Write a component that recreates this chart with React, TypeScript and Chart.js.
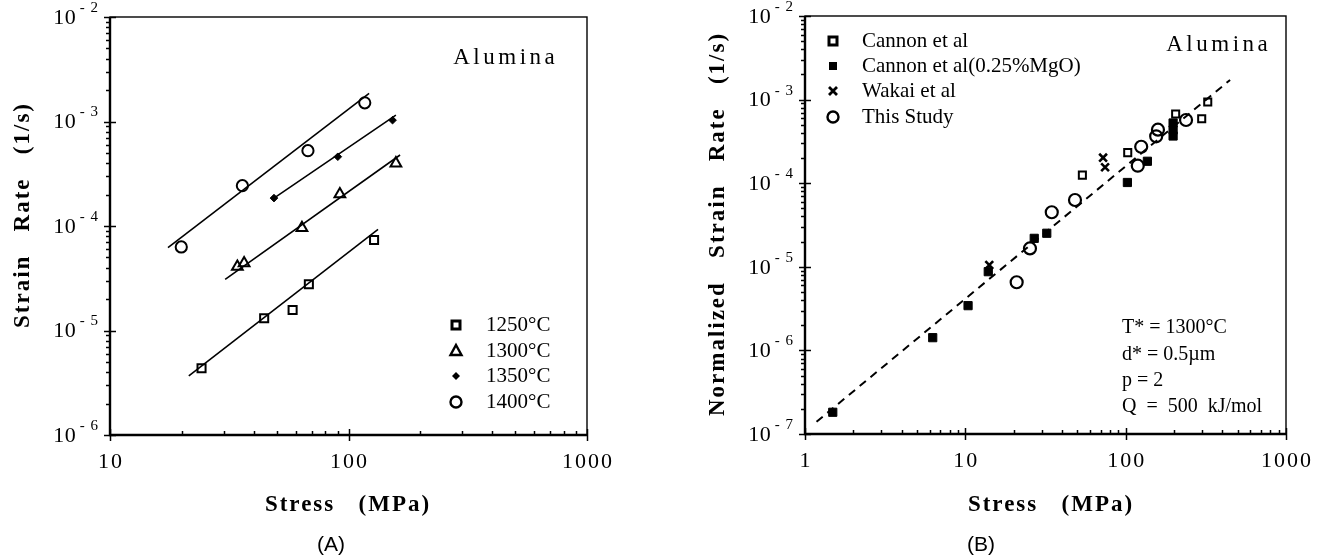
import React, { useEffect, useRef } from "react";
import { Chart, registerables } from "chart.js";

Chart.register(...registerables);

// ---------- Panel (A) data ----------
const stressA1250 = [24.2, 44.3, 58.3, 68.2, 128];
const rateA1250 = [4.35e-6, 1.31e-5, 1.57e-5, 2.77e-5, 7.35e-5];
const stressA1300 = [34.2, 36.5, 63.8, 92, 158];
const rateA1300 = [4.08e-5, 4.4e-5, 9.6e-5, 2.02e-4, 3.98e-4];
const stressA1350 = [48.7, 90.2, 153];
const rateA1350 = [1.85e-4, 4.6e-4, 1.03e-3];
const stressA1400 = [19.9, 35.9, 67.6, 117];
const rateA1400 = [6.3e-5, 2.43e-4, 5.26e-4, 1.51e-3];

const fitStressA1250 = [21.4, 133];
const fitRateA1250 = [3.67e-6, 9.29e-5];
const fitStressA1300 = [30.4, 164.5];
const fitRateA1300 = [3.09e-5, 4.78e-4];
const fitStressA1350 = [48.7, 158];
const fitRateA1350 = [1.85e-4, 1.15e-3];
const fitStressA1400 = [17.5, 122];
const fitRateA1400 = [6.2e-5, 1.86e-3];

const legendA = ["1250°C", "1300°C", "1350°C", "1400°C"];
const xTickExpA = [1, 3];
const yTickExpA = [-6, -2];

// ---------- Panel (B) data ----------
const cannonStress = [53.7, 103, 205, 298, 325];
const cannonRate = [1.25e-4, 2.32e-4, 6.73e-4, 5.91e-4, 9.36e-4];
const mgoStress = [1.49, 6.26, 10.4, 13.9, 26.9, 32.2, 102.5, 136.6, 197.6, 197.6, 197.6];
const mgoRate = [1.82e-7, 1.42e-6, 3.43e-6, 8.74e-6, 2.19e-5, 2.52e-5, 1.02e-4, 1.83e-4, 5.25e-4, 4.33e-4, 3.67e-4];
const wakaiStress = [14.1, 72.3, 74.4];
const wakaiRate = [1.05e-5, 2.02e-4, 1.55e-4];
const studyStress = [20.9, 25.3, 34.6, 48.3, 119, 125, 155, 159, 238];
const studyRate = [6.53e-6, 1.66e-5, 4.49e-5, 6.3e-5, 1.62e-4, 2.73e-4, 3.64e-4, 4.37e-4, 5.7e-4];
const fitStressB = [1.18, 448];
const fitRateB = [1.4e-7, 1.72e-3];

const legendB = ["Cannon et al", "Cannon et al(0.25%MgO)", "Wakai et al", "This Study"];
const notesB = ["T* = 1300°C", "d* = 0.5\u00B5m", "p = 2", "Q  =  500  kJ/mol"];
const xTickExpB = [0, 3];
const yTickExpB = [-7, -2];

const SERIF = '"Liberation Serif", "Times New Roman", Times, serif';
const SANS = '"Liberation Sans", Arial, Helvetica, sans-serif';

const pts = (xs: number[], ys: number[]) => xs.map((x, i) => ({ x, y: ys[i] }));

function txt(
  ctx: CanvasRenderingContext2D,
  s: string,
  x: number,
  y: number,
  font: string,
  align: CanvasTextAlign = "left",
  spacing = 0
) {
  ctx.save();
  ctx.font = font;
  (ctx as any).letterSpacing = spacing + "px";
  ctx.textAlign = align;
  ctx.textBaseline = "middle";
  ctx.fillStyle = "#000";
  let dx = 0;
  if (align === "center") dx = spacing / 2;
  else if (align === "right") dx = spacing;
  ctx.fillText(s, x + dx, y);
  ctx.restore();
}

function vtxt(ctx: CanvasRenderingContext2D, s: string, cx: number, cy: number, font: string, spacing: number) {
  ctx.save();
  ctx.translate(cx, cy);
  ctx.rotate(-Math.PI / 2);
  txt(ctx, s, 0, 0, font, "center", spacing);
  ctx.restore();
}

function drawFrameAndTicks(chart: any, xe: number[], ye: number[]) {
  const { ctx, chartArea: a } = chart;
  const xs = chart.scales.x;
  const ys = chart.scales.y;
  ctx.save();
  ctx.strokeStyle = "#000";
  ctx.lineWidth = 1.4;
  ctx.strokeRect(a.left, a.top, a.right - a.left, a.bottom - a.top);
  ctx.lineWidth = 2.4;
  ctx.beginPath();
  ctx.moveTo(a.left, a.top);
  ctx.lineTo(a.left, a.bottom);
  ctx.lineTo(a.right, a.bottom);
  ctx.stroke();
  ctx.lineWidth = 1.5;
  for (let e = xe[0]; e <= xe[1]; e++) {
    for (let k = 1; k <= 9; k++) {
      if (e === xe[1] && k > 1) break;
      const px = Math.round(xs.getPixelForValue(k * Math.pow(10, e))) + 0.5;
      ctx.beginPath();
      if (k === 1) {
        ctx.moveTo(px, a.bottom + 6);
        ctx.lineTo(px, a.bottom - 6);
      } else {
        ctx.moveTo(px, a.bottom);
        ctx.lineTo(px, a.bottom - 4);
      }
      ctx.stroke();
    }
  }
  for (let e = ye[0]; e <= ye[1]; e++) {
    for (let k = 1; k <= 9; k++) {
      if (e === ye[1] && k > 1) break;
      const py = Math.round(ys.getPixelForValue(k * Math.pow(10, e))) + 0.5;
      ctx.beginPath();
      if (k === 1) {
        ctx.moveTo(a.left - 6, py);
        ctx.lineTo(a.left + 6, py);
      } else {
        ctx.moveTo(a.left - 4, py);
        ctx.lineTo(a.left, py);
      }
      ctx.stroke();
    }
  }
  ctx.restore();
  // tick labels
  for (let e = xe[0]; e <= xe[1]; e++) {
    const px = xs.getPixelForValue(Math.pow(10, e));
    txt(ctx, String(Math.pow(10, e)), px, a.bottom + 27, `22px ${SERIF}`, "center", 2);
  }
  for (let e = ye[0]; e <= ye[1]; e++) {
    const py = ys.getPixelForValue(Math.pow(10, e));
    ctx.save();
    ctx.font = `15px ${SERIF}`;
    (ctx as any).letterSpacing = "1px";
    const sup = "- " + Math.abs(e);
    const w = ctx.measureText(sup).width;
    ctx.restore();
    const supX = a.left - 11 - w;
    txt(ctx, sup, supX, py - 9, `15px ${SERIF}`, "left", 1);
    txt(ctx, "10", supX - 4, py + 1, `22px ${SERIF}`, "right", 0.5);
  }
}

function marker(ctx: CanvasRenderingContext2D, kind: string, x: number, y: number) {
  ctx.save();
  ctx.strokeStyle = "#000";
  ctx.fillStyle = "#000";
  ctx.beginPath();
  if (kind === "openSquare") {
    ctx.lineWidth = 3;
    ctx.rect(x - 4, y - 4, 8, 8);
    ctx.stroke();
  } else if (kind === "fillSquare") {
    ctx.rect(x - 4, y - 4, 8, 8);
    ctx.fill();
  } else if (kind === "triangle") {
    ctx.lineWidth = 2.4;
    ctx.moveTo(x, y - 6);
    ctx.lineTo(x + 5.5, y + 4);
    ctx.lineTo(x - 5.5, y + 4);
    ctx.closePath();
    ctx.stroke();
  } else if (kind === "diamond") {
    ctx.moveTo(x, y - 4);
    ctx.lineTo(x + 4, y);
    ctx.lineTo(x, y + 4);
    ctx.lineTo(x - 4, y);
    ctx.closePath();
    ctx.fill();
  } else if (kind === "circle") {
    ctx.lineWidth = 2.4;
    ctx.arc(x, y, 5.5, 0, Math.PI * 2);
    ctx.stroke();
  } else if (kind === "cross") {
    ctx.lineWidth = 2.8;
    ctx.moveTo(x - 4, y - 4);
    ctx.lineTo(x + 4, y + 4);
    ctx.moveTo(x + 4, y - 4);
    ctx.lineTo(x - 4, y + 4);
    ctx.stroke();
  }
  ctx.restore();
}

const panelAPlugin = {
  id: "panelA",
  afterDraw(chart: any) {
    const ctx = chart.ctx as CanvasRenderingContext2D;
    drawFrameAndTicks(chart, xTickExpA, yTickExpA);
    txt(ctx, "Alumina", 504, 58, `23px ${SERIF}`, "center", 3.5);
    const kinds = ["openSquare", "triangle", "diamond", "circle"];
    const rows = [325, 351, 376, 402];
    legendA.forEach((s, i) => {
      marker(ctx, kinds[i], 456, rows[i]);
      txt(ctx, s, 486, rows[i], `21px ${SERIF}`, "left", 0);
    });
    vtxt(ctx, "Strain   Rate   (1/s)", 23, 216, `bold 23px ${SERIF}`, 2);
    txt(ctx, "Stress   (MPa)", 347, 505, `bold 23px ${SERIF}`, "center", 2);
    txt(ctx, "(A)", 331, 545, `21px ${SANS}`, "center", 0);
  },
};

const panelBPlugin = {
  id: "panelB",
  afterDraw(chart: any) {
    const ctx = chart.ctx as CanvasRenderingContext2D;
    drawFrameAndTicks(chart, xTickExpB, yTickExpB);
    txt(ctx, "Alumina", 567, 45, `23px ${SERIF}`, "center", 3.5);
    const kinds = ["openSquare", "fillSquare", "cross", "circle"];
    const rows = [41, 66, 91, 117];
    legendB.forEach((s, i) => {
      marker(ctx, kinds[i], 183, rows[i]);
      txt(ctx, s, 212, rows[i], `21px ${SERIF}`, "left", 0);
    });
    const nrows = [328, 355, 381, 407];
    notesB.forEach((s, i) => txt(ctx, s, 472, nrows[i], `20px ${SERIF}`, "left", 0));
    vtxt(ctx, "Normalized   Strain   Rate   (1/s)", 68, 225, `bold 23px ${SERIF}`, 2);
    txt(ctx, "Stress   (MPa)", 400, 505, `bold 23px ${SERIF}`, "center", 2);
    txt(ctx, "(B)", 331, 545, `21px ${SANS}`, "center", 0);
  },
};

function logScales(xmin: number, xmax: number, ymin: number, ymax: number) {
  const common = {
    type: "logarithmic" as const,
    display: false,
    grid: { display: false },
    border: { display: false },
    ticks: { display: false },
  };
  return {
    x: { ...common, min: xmin, max: xmax },
    y: { ...common, min: ymin, max: ymax },
  };
}

const baseOptions = (padding: any, scales: any) => ({
  animation: false as const,
  responsive: false,
  maintainAspectRatio: false,
  layout: { padding },
  plugins: { legend: { display: false }, tooltip: { enabled: false }, title: { display: false } },
  scales,
  events: [] as any[],
});

function openPoints(label: string, xs: number[], ys: number[], style: string, r: number, bw: number) {
  return {
    label,
    data: pts(xs, ys),
    pointStyle: style,
    pointRadius: r,
    borderColor: "#000",
    backgroundColor: "rgba(0,0,0,0)",
    pointBorderWidth: bw,
    borderWidth: bw,
    showLine: false,
  };
}

function filledPoints(label: string, xs: number[], ys: number[], style: string, r: number, bw: number) {
  return {
    label,
    data: pts(xs, ys),
    pointStyle: style,
    pointRadius: r,
    borderColor: "#000",
    backgroundColor: "#000",
    pointBorderWidth: bw,
    borderWidth: bw,
    showLine: false,
  };
}

function lineSet(xs: number[], ys: number[], dash: number[], width: number) {
  return {
    label: "fit",
    data: pts(xs, ys),
    showLine: true,
    pointRadius: 0,
    borderColor: "#000",
    borderWidth: width,
    borderDash: dash,
    fill: false,
  };
}

export default function App() {
  const refA = useRef<HTMLCanvasElement>(null);
  const refB = useRef<HTMLCanvasElement>(null);

  useEffect(() => {
    const chartA = new Chart(refA.current as HTMLCanvasElement, {
      type: "scatter",
      data: {
        datasets: [
          openPoints("1250°C", stressA1250, rateA1250, "rect", 5.7, 2),
          openPoints("1300°C", stressA1300, rateA1300, "triangle", 6.2, 2),
          filledPoints("1350°C", stressA1350, rateA1350, "rectRot", 3.8, 1),
          openPoints("1400°C", stressA1400, rateA1400, "circle", 5.6, 2),
          lineSet(fitStressA1250, fitRateA1250, [], 1.6),
          lineSet(fitStressA1300, fitRateA1300, [], 1.6),
          lineSet(fitStressA1350, fitRateA1350, [], 1.6),
          lineSet(fitStressA1400, fitRateA1400, [], 1.6),
        ] as any,
      },
      options: baseOptions({ left: 110, top: 17, right: 63, bottom: 125 }, logScales(10, 1000, 1e-6, 1e-2)) as any,
      plugins: [panelAPlugin],
    });
    const chartB = new Chart(refB.current as HTMLCanvasElement, {
      type: "scatter",
      data: {
        datasets: [
          openPoints("Cannon et al", cannonStress, cannonRate, "rect", 5, 2),
          filledPoints("Cannon et al(0.25%MgO)", mgoStress, mgoRate, "rect", 5.8, 1),
          openPoints("Wakai et al", wakaiStress, wakaiRate, "crossRot", 5.5, 2.6),
          openPoints("This Study", studyStress, studyRate, "circle", 6, 2.2),
          lineSet(fitStressB, fitRateB, [8, 6], 2),
        ] as any,
      },
      options: baseOptions({ left: 155, top: 16, right: 40, bottom: 126 }, logScales(1, 1000, 1e-7, 1e-2)) as any,
      plugins: [panelBPlugin],
    });
    return () => {
      chartA.destroy();
      chartB.destroy();
    };
  }, []);

  return (
    <div style={{ position: "absolute", left: 0, top: 0, width: 1326, height: 560, background: "#fff", overflow: "hidden" }}>
      <canvas ref={refA} width={650} height={560} style={{ position: "absolute", left: 0, top: 0, width: 650, height: 560 }} />
      <canvas ref={refB} width={676} height={560} style={{ position: "absolute", left: 650, top: 0, width: 676, height: 560 }} />
    </div>
  );
}
